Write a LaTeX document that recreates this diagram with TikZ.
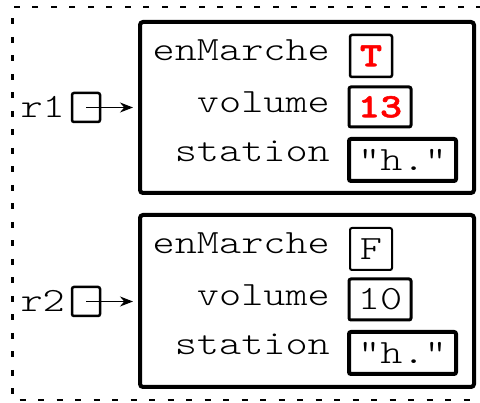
\documentclass[tikz,border=0pt]{standalone}
\usepackage{fontspec}
\setmonofont{lmmonolt10-regular}[Extension=.otf, BoldFont=lmmonolt10-bold, BoldFeatures={FakeBold=1.5}, FakeStretch=1.24]
\usetikzlibrary{arrows.meta}
\begin{document}
\begin{tikzpicture}[x=1pt,y=-1pt,
  txt/.style={font=\fontsize{34}{40}\selectfont\ttfamily, inner sep=0pt, text height=20.5pt, text depth=0pt},
  lbl/.style={txt, anchor=base east},
  obj/.style={draw, line width=4pt, rounded corners=3pt, minimum width=334pt, inner sep=0pt},
  cell/.style={txt, draw, rounded corners=2pt, minimum height=42pt},
  ref/.style={draw, line width=2.5pt, rounded corners=2pt, minimum width=28pt, minimum height=29pt, inner sep=0pt},
  ptr/.style={line width=1.1pt, -{Stealth[length=13pt,width=10pt]}, shorten >=5pt},
  hot/.style={text=red, font=\fontsize{34}{40}\selectfont\ttfamily\bfseries}]
\useasboundingbox (0,0) rectangle (480,403);
\draw[line width=2.5pt, dash pattern=on 6pt off 12.5pt] (482,7) -- (12.5,7) -- (12.5,400) -- (482,400);

% object 1
\node[obj, minimum height=171pt] (o1) at (307,107.5) {};
\node[lbl] (l1a) at (330,61) {enMarche};
\node[lbl] (l1b) at (330,113) {volume};
\node[lbl] (l1c) at (330,162) {station};
\node[cell, hot, line width=2.5pt, minimum width=42pt] (v1a) at (371,56) {T};
\node[cell, hot, line width=3pt, minimum width=62pt, minimum height=40pt] (v1b) at (380,107) {13};
\node[cell, line width=4pt, minimum width=107pt] (v1c) at (402.5,160) {"h."};

% object 2
\node[obj, minimum height=172pt] (o2) at (307,301) {};
\node[lbl] (l2a) at (330,254) {enMarche};
\node[lbl] (l2b) at (330,306) {volume};
\node[lbl] (l2c) at (330,355) {station};
\node[cell, line width=2pt, minimum width=42pt] (v2a) at (371,249) {F};
\node[cell, line width=3pt, minimum width=62pt, minimum height=41pt] (v2b) at (380,299.5) {10};
\node[cell, line width=4pt, minimum width=107pt] (v2c) at (402.5,353) {"h."};

% references
\node[lbl] (n1) at (65,118) {r1};
\node[ref] (r1) at (86,107.5) {};
\node[lbl] (n2) at (65,312) {r2};
\node[ref] (r2) at (86,301.5) {};
\draw[ptr] (r1.center) -- (r1.center -| o1.west);
\draw[ptr] (r2.center) -- (r2.center -| o2.west);
\end{tikzpicture}
\end{document}
